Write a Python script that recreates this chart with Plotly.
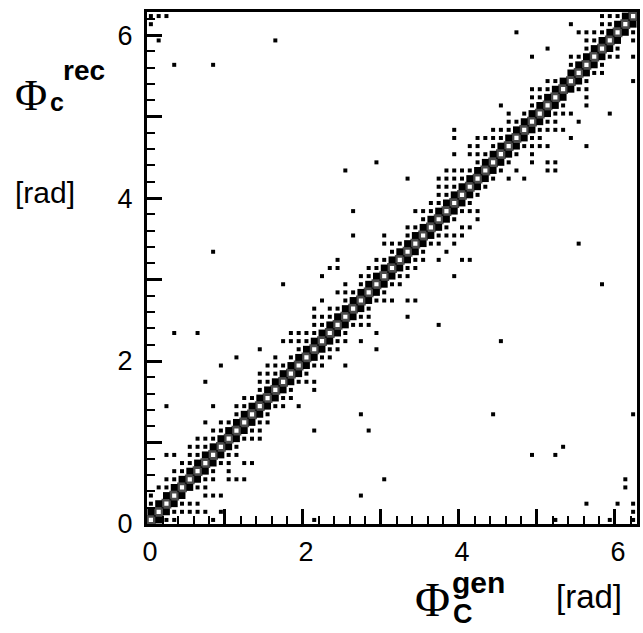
import numpy as np
import plotly.graph_objects as go

# ---------------- data (bin indices of a 63x63 histogram over [0, 2pi]) ----------------
N_BINS = 63
PHI_MAX = 2 * np.pi

# diagonal bins (gen == rec), large content
diag_bin = [0, 1, 2, 3, 4, 5, 6, 7, 8, 9, 10, 11, 12, 13, 14, 15, 16, 17, 18, 19, 20,
            21, 22, 23, 24, 25, 26, 27, 28, 29, 30, 31, 32, 33, 34, 35, 36, 37, 38, 39, 40,
            41, 42, 43, 44, 45, 46, 47, 48, 49, 50, 51, 52, 53, 54, 55, 56, 57, 58, 59, 60,
            61, 62]
diag_count = [6, 6, 6, 6, 6, 6, 6, 6, 6, 6, 6, 6, 6, 6, 6, 6, 6, 6, 6, 6, 6,
              6, 6, 6, 6, 6, 6, 6, 6, 6, 6, 6, 6, 6, 6, 6, 6, 6, 6, 6, 6,
              6, 6, 6, 6, 6, 6, 6, 6, 6, 6, 6, 6, 6, 6, 6, 6, 6, 6, 6, 6,
              6, 6]

# first neighbours of the diagonal, medium content
band_gen = [0, 1, 2, 3, 4, 5, 6, 7, 8, 9, 10, 11, 12, 13, 14, 15, 16, 17, 18, 19, 20,
            21, 22, 23, 24, 25, 26, 27, 28, 29, 30, 31, 32, 33, 34, 35, 36, 37, 38, 39, 40,
            41, 42, 43, 44, 45, 46, 47, 48, 49, 50, 51, 52, 53, 54, 55, 56, 57, 58, 59, 60, 61,
            1, 2, 3, 4, 5, 6, 7, 8, 9, 10, 11, 12, 13, 14, 15, 16, 17, 18, 19, 20,
            21, 22, 23, 24, 25, 26, 27, 28, 29, 30, 31, 32, 33, 34, 35, 36, 37, 38, 39, 40,
            41, 42, 43, 44, 45, 46, 47, 48, 49, 50, 51, 52, 53, 54, 55, 56, 57, 58, 59, 60, 61, 62]
band_rec = [1, 2, 3, 4, 5, 6, 7, 8, 9, 10, 11, 12, 13, 14, 15, 16, 17, 18, 19, 20, 21,
            22, 23, 24, 25, 26, 27, 28, 29, 30, 31, 32, 33, 34, 35, 36, 37, 38, 39, 40, 41,
            42, 43, 44, 45, 46, 47, 48, 49, 50, 51, 52, 53, 54, 55, 56, 57, 58, 59, 60, 61, 62,
            0, 1, 2, 3, 4, 5, 6, 7, 8, 9, 10, 11, 12, 13, 14, 15, 16, 17, 18, 19,
            20, 21, 22, 23, 24, 25, 26, 27, 28, 29, 30, 31, 32, 33, 34, 35, 36, 37, 38, 39,
            40, 41, 42, 43, 44, 45, 46, 47, 48, 49, 50, 51, 52, 53, 54, 55, 56, 57, 58, 59, 60, 61]
band_count = 3

# scattered single entries (gen bin, rec bin)
dot_gen = [0, 0, 0, 0,
           1, 1, 1,
           2, 2, 2, 2, 2, 2,
           3, 3, 3, 3, 3, 3, 3,
           4, 4, 4, 4,
           5, 5, 5, 5, 5,
           6, 6, 6, 6, 6, 6, 6,
           7, 7, 7, 7, 7, 7, 7, 7,
           8, 8, 8, 8, 8, 8, 8, 8, 8,
           9, 9, 9, 9, 9, 9,
           10, 10, 10, 10, 10,
           11, 11, 11, 11, 11, 11,
           12, 12, 12, 12, 12,
           13, 13, 13, 13,
           14, 14, 14, 14, 14, 14, 14,
           15, 15, 15, 15, 15,
           16, 16, 16, 16, 16,
           17, 17, 17, 17, 17,
           18, 18, 18, 18, 18,
           19, 19, 19, 19, 19,
           20, 20, 20, 20,
           21, 21, 21, 21, 21, 21, 21, 21, 21,
           22, 22, 22, 22, 22, 22,
           23, 23, 23, 23, 23,
           24, 24, 24, 24, 24, 24,
           25, 25, 25, 25, 25, 25, 25,
           26, 26, 26, 26,
           27, 27, 27, 27, 27, 27, 27,
           28, 28, 28, 28, 28, 28,
           29, 29, 29, 29, 29, 29,
           30, 30, 30, 30, 30, 30,
           31, 31, 31, 31,
           32, 32, 32,
           33, 33, 33, 33, 33, 33, 33,
           34, 34, 34, 34, 34,
           35, 35, 35, 35,
           36, 36, 36,
           37, 37, 37, 37, 37, 37, 37, 37,
           38, 38, 38, 38, 38, 38, 38,
           39, 39, 39, 39, 39, 39, 39, 39, 39, 39,
           40, 40, 40, 40, 40, 40,
           41, 41, 41, 41, 41, 41, 41,
           42, 42, 42, 42, 42, 42, 42,
           43, 43, 43,
           44, 44, 44, 44, 44,
           45, 45, 45, 45, 45,
           46, 46, 46, 46, 46,
           47, 47, 47, 47,
           48, 48, 48,
           49, 49, 49, 49, 49, 49, 49, 49, 49,
           50, 50, 50, 50, 50,
           51, 51, 51, 51, 51, 51, 51, 51,
           52, 52, 52, 52, 52, 52, 52, 52,
           53, 53, 53, 53,
           54, 54, 54, 54, 54,
           55, 55, 55, 55, 55,
           56, 56, 56, 56, 56, 56, 56, 56, 56,
           57, 57, 57,
           58, 58, 58, 58, 58, 58,
           59, 59, 59, 59, 59,
           60, 60, 60, 60,
           61, 61,
           62, 62, 62, 62, 62, 62, 62, 62]
dot_rec = [2, 3, 62, 61,
           4, 62, 59,
           4, 5, 8, 14, 0, 62,
           5, 6, 8, 1, 0, 23, 56,
           6, 7, 2, 1,
           7, 8, 9, 2, 1,
           8, 9, 10, 4, 2, 1, 23,
           9, 10, 12, 5, 4, 3, 1, 17,
           10, 11, 14, 6, 5, 3, 0, 33, 56,
           11, 12, 7, 3, 1, 19,
           12, 8, 7, 6, 5,
           20, 14, 13, 9, 8, 5,
           15, 14, 10, 7, 5,
           15, 11, 10, 7,
           21, 18, 17, 16, 12, 11, 10,
           19, 18, 17, 13, 12,
           20, 19, 18, 14, 59,
           22, 19, 15, 14, 29,
           23, 22, 20, 16, 15,
           23, 22, 21, 17, 14,
           23, 22, 18, 17,
           26, 25, 24, 23, 19, 17, 16, 11, 0,
           30, 27, 25, 24, 20, 19,
           31, 26, 25, 21, 20,
           32, 31, 28, 26, 22, 21,
           29, 28, 27, 23, 22, 19, 43,
           35, 28, 24, 38,
           30, 29, 25, 24, 22, 13, 3,
           31, 30, 26, 25, 24, 11,
           32, 31, 27, 23, 21, 44,
           35, 34, 32, 28, 27, 5,
           34, 33, 29, 27,
           34, 30, 29,
           42, 36, 35, 31, 30, 27, 25,
           38, 36, 32, 31, 27,
           38, 37, 33, 32,
           39, 38, 34,
           42, 41, 40, 39, 35, 34, 32, 24,
           43, 42, 41, 40, 36, 35, 33,
           48, 47, 45, 43, 42, 41, 37, 35, 34, 30,
           43, 42, 38, 36, 35, 32,
           46, 45, 43, 39, 38, 36, 32,
           47, 46, 45, 44, 40, 38, 37,
           47, 45, 41,
           48, 47, 46, 42, 13,
           51, 48, 47, 43, 22,
           50, 49, 48, 44, 42,
           60, 49, 45, 43,
           50, 46, 42,
           57, 53, 52, 51, 47, 46, 45, 44, 8,
           53, 52, 48, 47, 46,
           58, 54, 53, 49, 48, 46, 44, 43,
           54, 50, 49, 48, 44, 43, 8, 0,
           51, 50, 48, 9,
           61, 57, 56, 50, 47,
           60, 57, 53, 49, 34,
           60, 59, 58, 54, 53, 52, 51, 46, 2,
           60, 59, 55,
           62, 61, 60, 56, 55, 29,
           62, 61, 57, 50, 0,
           62, 58, 57, 2,
           5, 4,
           60, 59, 57, 54, 13, 2, 1, 0]
dot_count = 1

x_tick_vals = [0, 1, 2, 3, 4, 5, 6]
x_tick_text = ["0", "", "2", "", "4", "", "6"]
y_tick_vals = [0, 1, 2, 3, 4, 5, 6]
y_tick_text = ["0", "", "2", "", "4", "", "6"]

# ---------------- helpers ----------------
BIN_W = PHI_MAX / N_BINS
MAX_COUNT = 6
BOX_PX = 9.8


def centre(b):
    return (np.asarray(b, dtype=float) + 0.5) * BIN_W


def box_size(c):
    return BOX_PX * np.sqrt(np.asarray(c, dtype=float) / MAX_COUNT)


fig = go.Figure()

fig.add_trace(go.Scatter(
    x=centre(dot_gen), y=centre(dot_rec), mode="markers",
    marker=dict(symbol="square", color="black",
                size=float(box_size(dot_count)), line=dict(width=0)),
    hoverinfo="skip", showlegend=False))

fig.add_trace(go.Scatter(
    x=centre(band_gen), y=centre(band_rec), mode="markers",
    marker=dict(symbol="square", color="black",
                size=float(box_size(band_count)), line=dict(width=0)),
    hoverinfo="skip", showlegend=False))

DIAG_LINE = 2.8
fig.add_trace(go.Scatter(
    x=centre(diag_bin), y=centre(diag_bin), mode="markers",
    marker=dict(symbol="square", color="white",
                size=box_size(diag_count) - DIAG_LINE,
                line=dict(width=DIAG_LINE, color="black")),
    hoverinfo="skip", showlegend=False))

# ---------------- layout ----------------
L, R, T, B = 147, 3, 12, 109
W, H = 643, 633
PW, PH = W - L - R, H - T - B

TICKFONT = dict(family="Liberation Sans, Arial, sans-serif", size=27, color="black")

axis_common = dict(
    range=[0, PHI_MAX], showgrid=False, zeroline=False,
    showline=True, linecolor="black", linewidth=3, mirror=True,
    ticks="inside", ticklen=15, tickwidth=2.5, tickcolor="black",
    tickfont=TICKFONT,
    minor=dict(ticks="inside", ticklen=8, tickwidth=2, tickcolor="black",
               tick0=0, dtick=0.2, showgrid=False),
)

fig.update_xaxes(tickvals=x_tick_vals, ticktext=x_tick_text, ticklabelstandoff=2,
                 ticklabelshift=3, **axis_common)
fig.update_yaxes(tickvals=y_tick_vals, ticktext=y_tick_text, ticklabelstandoff=6,
                 **axis_common)


def px(xp):
    return (xp - L) / PW


def py(yp):
    return (T + PH - yp) / PH


SERIF = "Liberation Serif, Times New Roman, serif"
SANS = "Liberation Sans, Arial, sans-serif"
annotations = [
    # y-axis title
    dict(text="Φ", x=px(12), y=py(95), xanchor="left", yanchor="middle",
         font=dict(family=SERIF, size=44, color="black")),
    dict(text="<b>c</b>", x=px(47), y=py(102), xanchor="left", yanchor="middle",
         font=dict(family=SANS, size=25, color="black")),
    dict(text="<b>rec</b>", x=px(60), y=py(70), xanchor="left", yanchor="middle",
         font=dict(family=SANS, size=28, color="black")),
    dict(text="[rad]", x=px(12), y=py(192), xanchor="left", yanchor="middle",
         font=dict(family=SANS, size=30, color="black")),
    # x-axis title
    dict(text="Φ", x=px(415), y=py(599), xanchor="left", yanchor="middle",
         font=dict(family=SERIF, size=48, color="black")),
    dict(text="<b>C</b>", x=px(453), y=py(614), xanchor="left", yanchor="middle",
         font=dict(family=SANS, size=27, color="black")),
    dict(text="<b>gen</b>", x=px(452), y=py(582), xanchor="left", yanchor="middle",
         font=dict(family=SANS, size=30, color="black")),
    dict(text="[rad]", x=px(556), y=py(596), xanchor="left", yanchor="middle",
         font=dict(family=SANS, size=33, color="black")),
]
for a in annotations:
    a.update(xref="paper", yref="paper", showarrow=False)

fig.update_layout(
    width=W, height=H,
    margin=dict(l=L, r=R, t=T, b=B, pad=0),
    paper_bgcolor="white", plot_bgcolor="white",
    showlegend=False,
    annotations=annotations,
)

fig.write_html("out.html", config={"displayModeBar": False},
               post_script="document.body.style.margin='0';document.body.style.overflow='hidden';")
